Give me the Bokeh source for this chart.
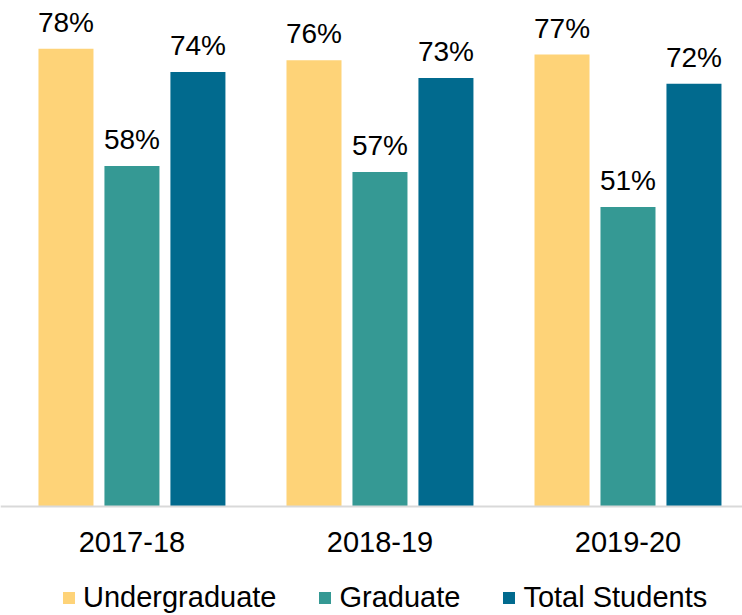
from bokeh.plotting import figure
from bokeh.models import ColumnDataSource, Range1d, FixedTicker, Legend, LegendItem, LabelSet
from bokeh.transform import dodge
from bokeh.core.properties import value
from bokeh.embed import file_html
from bokeh.resources import INLINE

years = ["2017-18", "2018-19", "2019-20"]
undergraduate = [78, 76, 77]
graduate = [58, 57, 51]
total_students = [74, 73, 72]
series_names = ["Undergraduate", "Graduate", "Total Students"]
series_colors = ["#FED378", "#359994", "#016A8E"]

idx = list(range(len(years)))
src = ColumnDataSource(dict(
    x=idx,
    ug=undergraduate, gr=graduate, tot=total_students,
    ug_lbl=[f"{v}%" for v in undergraduate],
    gr_lbl=[f"{v}%" for v in graduate],
    tot_lbl=[f"{v}%" for v in total_students],
))

FONT = "Liberation Sans"

p = figure(frame_width=742, frame_height=615,
           x_range=Range1d(-0.530, 2.4617), y_range=Range1d(-18.57, 86.2),
           output_backend="svg", toolbar_location=None,
           y_axis_location=None,
           min_border_left=0, min_border_right=0, min_border_top=0,
           min_border_bottom=0)
p.outline_line_color = None
p.xgrid.visible = False
p.ygrid.visible = False

offsets = [-0.266, 0.0, 0.266]
cols = ["ug", "gr", "tot"]
renderers = []
for col, off, c in zip(cols, offsets, series_colors):
    r = p.vbar(x=dodge("x", off, range=p.x_range), top=col, bottom=0, width=0.2218,
               source=src, fill_color=c, line_color=None)
    renderers.append(r)
    lbl = LabelSet(x=dodge("x", off, range=p.x_range), y=col, text=col + "_lbl",
                   source=src, text_align="center", text_baseline="alphabetic",
                   y_offset=17, text_font=value(FONT), text_font_size="28px",
                   text_color="black")
    p.add_layout(lbl)

ax = p.xaxis[0]
ax.fixed_location = 0
ax.ticker = FixedTicker(ticks=idx)
ax.major_label_overrides = {i: y for i, y in zip(idx, years)}
ax.axis_line_color = "#D9D9D9"
ax.axis_line_width = 2
ax.major_tick_line_color = None
ax.minor_tick_line_color = None
ax.major_label_text_font = FONT
ax.major_label_text_font_size = "29px"
ax.major_label_text_color = "black"
ax.major_label_standoff = 20

legend = Legend(items=[LegendItem(label=n, renderers=[r]) for n, r in zip(series_names, renderers)],
                orientation="horizontal", location=(61, 1),
                glyph_width=15, glyph_height=15, label_standoff=7, spacing=41,
                padding=0, margin=0, border_line_color=None, background_fill_alpha=0,
                label_text_font=FONT, label_text_font_size="29px",
                label_text_color="black")
p.add_layout(legend, "center")

open("out.html", "w").write(file_html(p, INLINE))
